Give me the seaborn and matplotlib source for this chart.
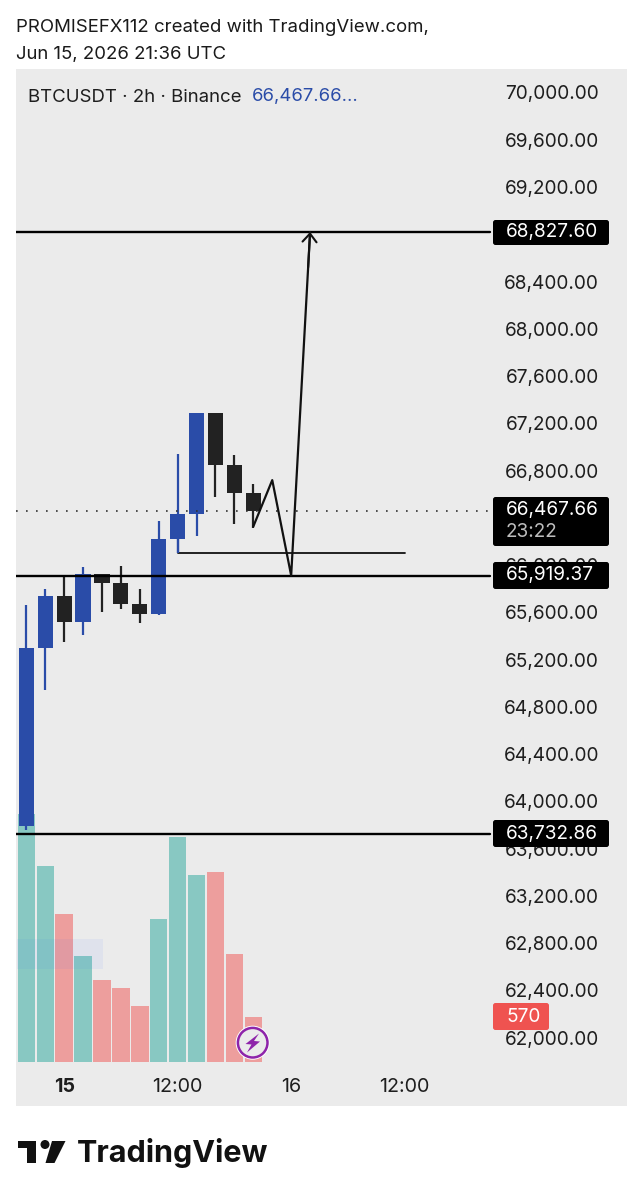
import pandas as pd
import matplotlib
matplotlib.use("Agg")
import matplotlib.pyplot as plt
import seaborn as sns
from matplotlib.patches import FancyBboxPatch, Polygon, Circle
from matplotlib.transforms import IdentityTransform, ScaledTranslation

# candles
opens = [63800, 65309, 65746, 65529, 65930, 65859, 65676, 65597, 66231, 66443, 67293, 66853, 66614]
closes = [65309, 65746, 65529, 65930, 65859, 65676, 65597, 66231, 66443, 67293, 66853, 66614, 66467.66]
highs = [65670, 65806, 65918, 65994, 65930, 66000, 65803, 66384, 66948, 67293, 67293, 66937, 66690]
lows = [63765, 64951, 65359, 65416, 65613, 65634, 65518, 65586, 66108, 66254, 66587, 66353, 66325]
volumes = [3133, 2478, 1870, 1338, 1034, 933, 705, 1811, 2850, 2369, 2398, 1359, 570]
vol_up = [True, True, False, True, False, False, False, True, True, True, False, False, False]

price_ticks = list(range(62000, 70001, 400))
hidden_ticks = [68800, 66400]  # fully behind the price tags
time_pos = [2, 8, 14, 20]
time_labels = ["15", "12:00", "16", "12:00"]

target_price = 68827.60
support_price = 65919.37
stop_price = 63732.86
last_price = 66467.66
shelf_price = 66106
path_x = [12, 13, 14, 15]
path_y = [66335, 66727, 65919.37, 68827.60]

BG = "#EBEBEB"
BLUE = "#2A4CA8"
DARK = "#222222"
FONT = "Inter"

sns.set_theme(style="white", rc={"axes.facecolor": BG, "font.family": [FONT, "DejaVu Sans"]})

W, H = 642, 1200
fig = plt.figure(figsize=(W / 100, H / 100), dpi=100, facecolor="white")
rect = [16 / W, 1 - 1106 / H, 611 / W, 1037 / H]
# volume sits lowest, candles over it, drawings over both
vax = fig.add_axes(rect)
ax = fig.add_axes(rect, sharex=vax)
dax = fig.add_axes(rect, sharex=vax)

xlim = (-0.544, 31.75)
ylim = (61428.6, 70207.4)
vax.set_xlim(xlim)
ax.set_ylim(ylim)
dax.set_ylim(ylim)
vax.set_ylim(-561, 12577)
ax.patch.set_alpha(0)
dax.patch.set_alpha(0)

# candles
for i in range(len(opens)):
    col = BLUE if closes[i] >= opens[i] else DARK
    ax.vlines(i, lows[i], highs[i], color=col, lw=1.6)
    ax.bar(i, abs(closes[i] - opens[i]), bottom=min(opens[i], closes[i]), width=0.8, color=col, lw=0)

# price and time scales
ax.yaxis.tick_right()
ax.set_yticks(price_ticks)
ax.set_yticklabels(["" if p in hidden_ticks else f"{p:,.2f}" for p in price_ticks],
                   ha="right", color="#1E1E1E", fontsize=13.7)
ax.tick_params(axis="y", length=0, pad=-20)
up_shift = ScaledTranslation(0, 1 / 100, fig.dpi_scale_trans)
for lab in ax.get_yticklabels():
    lab.set_transform(lab.get_transform() + up_shift)
ax.set_xticks(time_pos)
ax.set_xticklabels(time_labels, color="#1E1E1E", fontsize=14.2)
ax.get_xticklabels()[0].set_fontweight("bold")
ax.tick_params(axis="x", length=0, pad=-20.5)
ax.set_xlim(xlim)
for a in (ax, vax, dax):
    for s in a.spines.values():
        s.set_visible(False)

# volume
vol_df = pd.DataFrame({"bar": range(len(volumes)), "volume": volumes,
                       "side": ["up" if u else "down" for u in vol_up]})
sns.barplot(data=vol_df, x="bar", y="volume", hue="side", native_scale=True, dodge=False,
            palette={"up": "#26A69A", "down": "#EF5350"}, saturation=1, alpha=0.5, width=0.92,
            linewidth=0, legend=False, ax=vax)
vax.set_xlim(xlim)
vax.set_xlabel("")
vax.set_ylabel("")
vax.tick_params(left=False, bottom=False, labelleft=False, labelbottom=False)

# drawings
line_end = (490 - 26.3) / 18.92
for p in (target_price, support_price, stop_price):
    sns.lineplot(x=[xlim[0], line_end], y=[p, p], color="black", lw=1.7, ax=dax)
dax.plot([xlim[0], line_end], [last_price, last_price], color="#333333", lw=1.2, ls=(0, (1, 5)))
sns.lineplot(x=[8, 20], y=[shelf_price, shelf_price], color="#111111", lw=1.3, ax=dax)
dax.vlines(8, shelf_price, 66230, color=BLUE, lw=1.6)
plot_df = pd.DataFrame({"x": path_x, "y": path_y})
sns.lineplot(data=plot_df, x="x", y="y", sort=False, estimator=None, color="#111111", lw=1.6, ax=dax)
dax.annotate("", xy=(path_x[-1], path_y[-1]), xytext=(path_x[-1] - 0.103, path_y[-1] - 300),
             arrowprops=dict(arrowstyle="->,head_length=0.5,head_width=0.42", color="#111111",
                             lw=1.5, shrinkA=0, shrinkB=0))
dax.fill_between([-0.49, 4.05], 62591, 62842, color="#2962FF", alpha=0.06, lw=0)
dax.set_xlabel("")
dax.set_ylabel("")
dax.set_ylim(ylim)
dax.set_xlim(xlim)
dax.tick_params(left=False, bottom=False, labelleft=False, labelbottom=False)


def px_box(x0, y0, x1, y1, color):
    # rounded label box in picture pixels, y measured from the top
    box = FancyBboxPatch((x0, H - y1), x1 - x0, y1 - y0, boxstyle="round,pad=0,rounding_size=2.5",
                         transform=IdentityTransform(), fc=color, ec="none", zorder=5, clip_on=False)
    fig.add_artist(box)


def px_text(x, y, s, **kw):
    fig.text(x / W, 1 - y / H, s, va="center", zorder=6, **kw)


# price tags
for p, y0, y1 in [(target_price, 220, 245), (support_price, 562, 589), (stop_price, 820, 847)]:
    px_box(493, y0, 609, y1, "black")
    px_text(506, (y0 + y1) / 2, f"{p:,.2f}", color="white", fontsize=13.7)
px_box(493, 497, 609, 546, "black")
px_text(506, 510, f"{last_price:,.2f}", color="white", fontsize=13.7)
px_text(506, 532, "23:22", color="#BDBDBD", fontsize=13.7)
px_box(493, 1003, 549, 1030, "#EF5350")
px_text(506, 1017, "570", color="white", fontsize=13.7)

# alert badge
fig.add_artist(Circle((252.7, H - 1042.7), 17, transform=IdentityTransform(), fc="white", ec="none", zorder=5))
fig.add_artist(Circle((252.7, H - 1042.7), 14.8, transform=IdentityTransform(), fc=BG, ec="#8E24AA", lw=1.8, zorder=5))
bolt = [(259, 1033.5), (245.5, 1044), (251.5, 1044.5), (247, 1052.5), (260, 1041.5), (254, 1041)]
fig.add_artist(Polygon([(x, H - y) for x, y in bolt], transform=IdentityTransform(), fc="#8E24AA", ec="none", zorder=6))

# header and legend
px_text(16, 28, "PROMISEFX112 created with TradingView.com,", color="#1A1A1A", fontsize=13.4)
px_text(16, 54, "Jun 15, 2026 21:36 UTC", color="#1A1A1A", fontsize=13.4)
px_text(28, 97, "BTCUSDT · 2h · Binance", color="#1E1E1E", fontsize=13.4)
px_text(252, 97, "66,467.66...", color="#2A4CA8", fontsize=13.3)

# TradingView logo
logo_col = "#111111"
for pts in ([(18.3, 1141), (36, 1141), (36, 1163), (27.3, 1163), (27.3, 1147.5), (18.3, 1147.5)],
            [(52, 1141), (65.5, 1141), (54.5, 1163), (45.5, 1163)]):
    fig.add_artist(Polygon([(x, H - y) for x, y in pts], transform=IdentityTransform(), fc=logo_col, ec="none"))
fig.add_artist(Circle((45, H - 1144.5), 4.5, transform=IdentityTransform(), fc=logo_col, ec="none"))
px_text(76.5, 1153, "TradingView", color=logo_col, fontsize=22, fontweight="bold")

fig.savefig("out.png", dpi=100, facecolor="white")
